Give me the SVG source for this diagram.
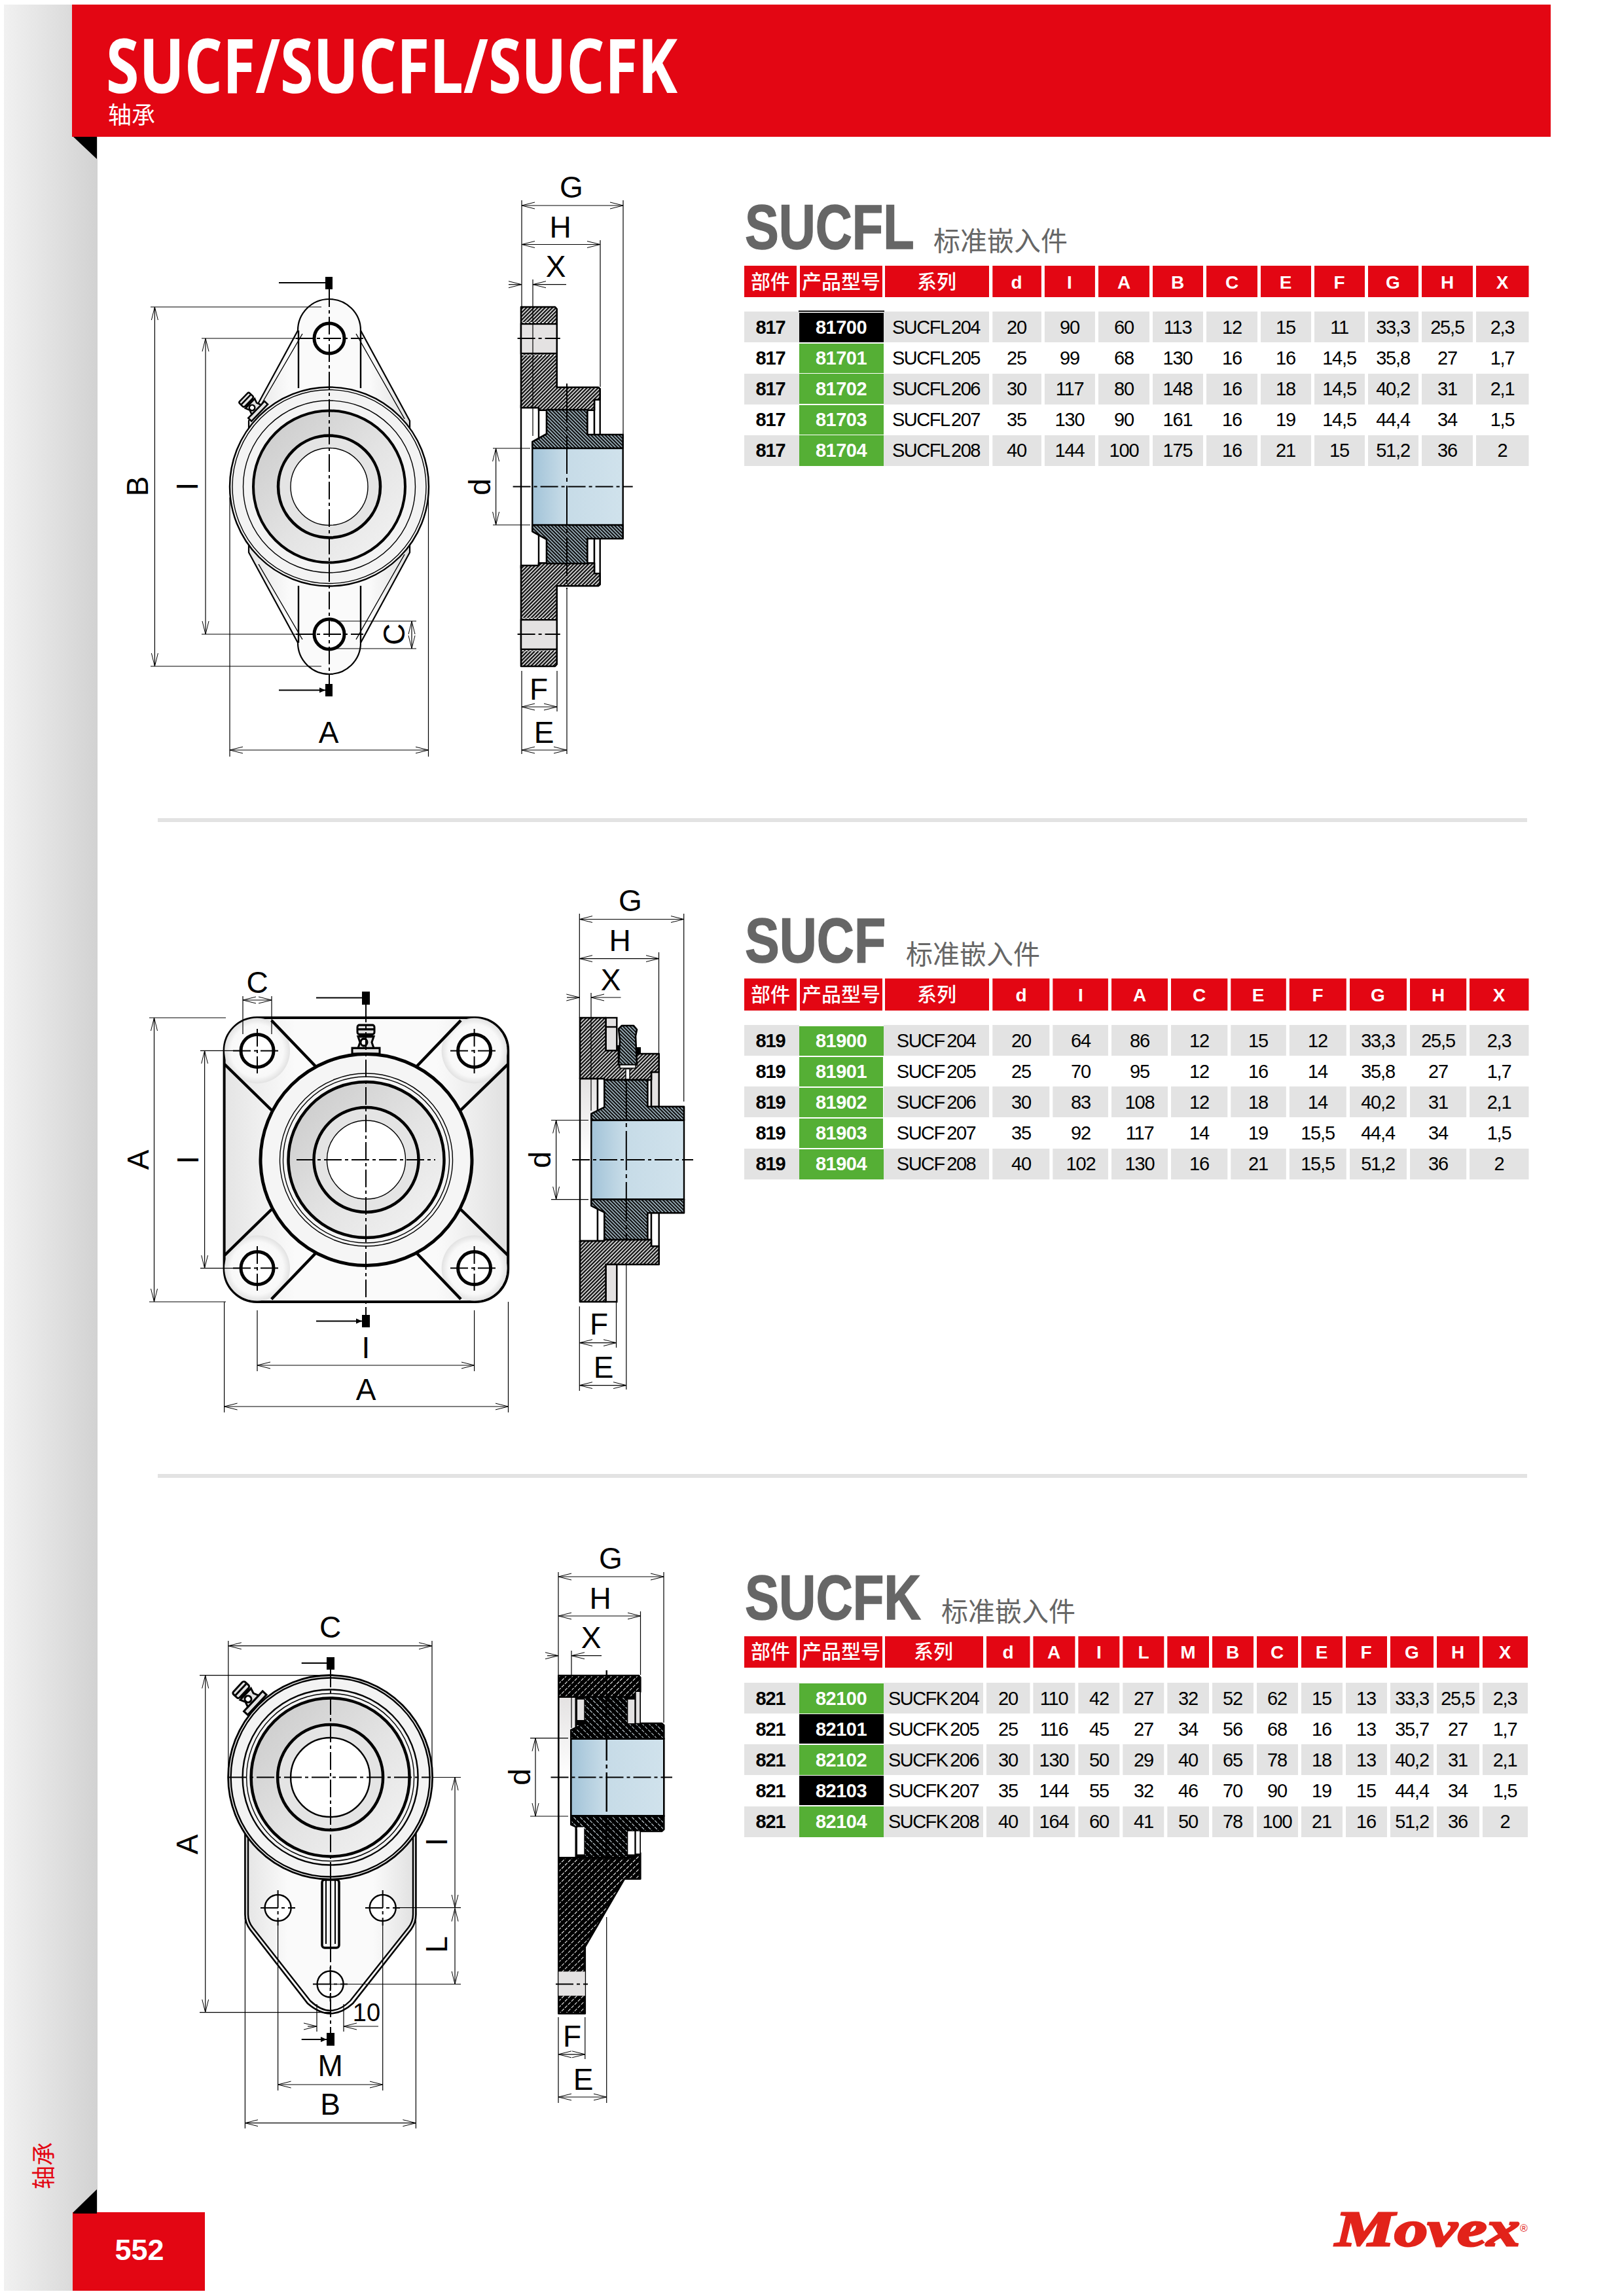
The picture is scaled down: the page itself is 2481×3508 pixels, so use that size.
<svg xmlns="http://www.w3.org/2000/svg" width="2481" height="3508" viewBox="0 0 2481 3508">
<style>
text{font-family:"Liberation Sans","Noto Sans CJK SC",sans-serif}
.cjk{font-family:"Noto Sans CJK SC",sans-serif}
.tb text{font-size:29px;text-anchor:middle;letter-spacing:-1.2px;fill:#000}
.tb .p{font-weight:700}
.tb .c{font-weight:700;fill:#fff;letter-spacing:-.5px}
.tb .s{word-spacing:-3px;letter-spacing:-1.5px}
.hd text{font-size:28px;font-weight:700;fill:#fff;text-anchor:middle}
.hd .cjk{font-size:30px;font-weight:500}
.ttl{font-weight:700;font-size:97px;fill:#666;stroke:#666;stroke-width:1.5}
.sub{font-size:41px;fill:#666}
.lb{font-size:46px;fill:#000;text-anchor:middle}
.red{fill:#E30613}.gy{fill:#E3E3E3}.gn{fill:#55AF35}.bk{fill:#000}
.d{stroke:#000;stroke-width:1.2;fill:none}
.da{stroke:#000;stroke-width:1.2;fill:none;marker-start:url(#ah);marker-end:url(#ah)}
.db{stroke:#000;stroke-width:1.2;fill:none}
.cl{stroke:#000;stroke-width:2;fill:none;stroke-dasharray:27 5 5 5}
.t1{stroke:#000;stroke-width:1.4;fill:none}
.t2{stroke:#000;stroke-width:2.4;fill:none}
.t3{stroke:#000;stroke-width:4.5;fill:none}
.sec{stroke:#000;stroke-width:2.6;stroke-linejoin:round}
.gap{fill:#E4E2E2;stroke:#000;stroke-width:2.4}
.gw{fill:#fff;stroke:#000;stroke-width:2.4}
.ah2{stroke:#000;stroke-width:2;fill:none;marker-end:url(#af)}
</style>
<defs>
<linearGradient id="band" x1="0" x2="1" y1="0" y2="0"><stop offset="0" stop-color="#F1F1F1"/><stop offset="1" stop-color="#D2D2D2"/></linearGradient>
<linearGradient id="blue" x1="0" x2="1" y1="0" y2="0"><stop offset="0" stop-color="#A2C3D8"/><stop offset=".35" stop-color="#C6DBE7"/><stop offset="1" stop-color="#D0E2EC"/></linearGradient>
<linearGradient id="bore" x1="0" x2="0" y1="0" y2="1"><stop offset="0" stop-color="#E4E2E2"/><stop offset=".5" stop-color="#fff"/><stop offset="1" stop-color="#fff"/></linearGradient>
<linearGradient id="ring" x1="0" x2="1" y1="0" y2="1"><stop offset="0" stop-color="#C8C8C8"/><stop offset=".55" stop-color="#E4E4E4"/><stop offset="1" stop-color="#F4F4F4"/></linearGradient>
<radialGradient id="face"><stop offset="0" stop-color="#FFF"/><stop offset=".8" stop-color="#F8F8F8"/><stop offset="1" stop-color="#E2E2E2"/></radialGradient>
<linearGradient id="plate" x1="0" x2="1" y1="0" y2="0"><stop offset="0" stop-color="#E4E4E4"/><stop offset=".25" stop-color="#FAFAFA"/><stop offset=".75" stop-color="#FAFAFA"/><stop offset="1" stop-color="#E0E0E0"/></linearGradient>
<pattern id="ha" width="4" height="4" patternUnits="userSpaceOnUse" patternTransform="rotate(45)"><rect width="4" height="4" fill="#fff"/><rect width="2.5" height="4" fill="#111"/></pattern>
<pattern id="hb" width="3.8" height="3.8" patternUnits="userSpaceOnUse" patternTransform="rotate(-45)"><rect width="3.8" height="3.8" fill="#BAD4E2"/><rect width="2.4" height="3.8" fill="#111"/></pattern>
<pattern id="hc" width="7" height="7" patternUnits="userSpaceOnUse" patternTransform="rotate(45)"><rect width="7" height="7" fill="#000"/><rect width="1" height="5" fill="#fff"/></pattern>
<pattern id="hd" width="7" height="7" patternUnits="userSpaceOnUse" patternTransform="rotate(-45)"><rect width="7" height="7" fill="#000"/><rect width="1" height="5" fill="#D8E6EE"/></pattern>
<marker id="ah" markerUnits="userSpaceOnUse" markerWidth="24" markerHeight="14" refX="20" refY="6" orient="auto-start-reverse"><path d="M0,1 L20,6 L0,11" fill="none" stroke="#000" stroke-width="1"/></marker>
<marker id="af" markerUnits="userSpaceOnUse" markerWidth="12" markerHeight="12" refX="9" refY="5" orient="auto"><path d="M0,1 L9,5 L0,9Z" fill="#000"/></marker>
<g id="nip"><g stroke="#000" stroke-width="3" fill="#E2E2E2"><rect x="-21" y="-7" width="42" height="8"/><path d="M-12,-7 L-9,-15 L-12,-23 L12,-23 L9,-15 L12,-7Z"/><circle cx="-3" cy="-15" r="5" fill="#fff"/><rect x="-8" y="-26" width="16" height="3"/><rect x="-13" y="-39" width="26" height="13" rx="3"/></g><path d="M-12,-33H12" stroke="#000" stroke-width="3"/></g>
<g id="cols1"><rect x="1516.3" width="74.6" height="47"/><rect x="1595.9" width="77" height="47"/><rect x="1678" width="78" height="47"/><rect x="1761" width="77" height="47"/><rect x="1843" width="78" height="47"/><rect x="1926" width="77" height="47"/><rect x="2008" width="77" height="47"/><rect x="2090" width="77" height="47"/><rect x="2172" width="78" height="47"/><rect x="2255" width="80.5" height="47"/></g>
<g id="cols2"><rect x="1516.3" width="87" height="47"/><rect x="1608.3" width="84.6" height="47"/><rect x="1698" width="86" height="47"/><rect x="1789" width="86.3" height="47"/><rect x="1880.3" width="84.5" height="47"/><rect x="1969.8" width="87" height="47"/><rect x="2062" width="87" height="47"/><rect x="2154" width="86.2" height="47"/><rect x="2245" width="90.5" height="47"/></g>
<g id="cols3"><rect x="1507" width="66.5" height="47"/><rect x="1578.4" width="64" height="47"/><rect x="1647.3" width="63" height="47"/><rect x="1715.3" width="63" height="47"/><rect x="1783.3" width="63.7" height="47"/><rect x="1852" width="63" height="47"/><rect x="1920" width="63" height="47"/><rect x="1988" width="63" height="47"/><rect x="2056" width="63" height="47"/><rect x="2124" width="66" height="47"/><rect x="2195" width="65" height="47"/><rect x="2265" width="69" height="47"/></g>
</defs>

<g id="page-frame">
<rect x="6" y="7" width="143" height="3493" fill="url(#band)"/>
<rect class="red" x="110" y="7" width="2259" height="202"/>
<path class="bk" d="M112,209H148V243Z"/>
<text x="162" y="142" font-size="115" font-weight="700" fill="#fff" style="font-family:'Open Sans',sans-serif" textLength="873" lengthAdjust="spacingAndGlyphs">SUCF/SUCFL/SUCFK</text>
<text class="cjk" x="165" y="189" font-size="36" fill="#fff">轴承</text>
<text class="cjk red" transform="rotate(-90 80 3345)" x="80" y="3345" font-size="36">轴承</text>
<rect class="red" x="111" y="3380" width="202" height="120"/>
<path class="bk" d="M112,3382V3380L148,3345V3382Z"/>
<text x="213" y="3453" font-size="45" font-weight="700" fill="#fff" text-anchor="middle" style="font-family:'Liberation Sans'">552</text>
<g id="logo" fill="#E2231A"><text x="2040" y="3431" font-size="76" font-weight="700" font-style="italic" stroke="#E2231A" stroke-width="3" style="font-family:'Liberation Serif',serif" textLength="282" lengthAdjust="spacingAndGlyphs">Movex</text><text x="2322" y="3410" font-size="16">®</text></g>
<rect class="gy" x="241" y="1250" width="2092" height="6"/>
<rect class="gy" x="241" y="2252" width="2092" height="6"/>
</g>

<!-- TABLE 1 -->
<g id="table-sucfl">
<text class="ttl" transform="translate(1138,380) scale(.8,1)">SUCFL</text>
<text class="sub cjk" x="1426" y="383">标准嵌入件</text>
<g class="red"><rect x="1137" y="406" width="80" height="48"/><rect x="1222" y="406" width="126" height="48"/><rect x="1352" y="406" width="159" height="48"/><use href="#cols1" transform="translate(0,406) scale(1,1.021)"/></g>
<g class="gy"><use href="#cols1" y="476"/><rect x="1137" y="476" width="84" height="47"/><rect x="1350" y="476" width="161" height="47"/><use href="#cols1" y="571"/><rect x="1137" y="571" width="84" height="47"/><rect x="1350" y="571" width="161" height="47"/><use href="#cols1" y="665"/><rect x="1137" y="665" width="84" height="47"/><rect x="1350" y="665" width="161" height="47"/></g>
<rect class="bk" x="1220" y="474.5" width="131" height="2"/><rect class="bk" x="1221" y="478" width="129" height="45"/>
<g class="gn"><rect x="1221" y="525" width="129" height="45"/><rect x="1221" y="571" width="129" height="46"/><rect x="1221" y="619" width="129" height="45"/><rect x="1221" y="665" width="129" height="47"/></g>
<g class="hd"><text class="cjk" x="1177" y="441">部件</text><text class="cjk" x="1285" y="441">产品型号</text><text class="cjk" x="1431" y="441">系列</text><text x="1553" y="441">d</text><text x="1634" y="441">I</text><text x="1717" y="441">A</text><text x="1799" y="441">B</text><text x="1882" y="441">C</text><text x="1964" y="441">E</text><text x="2046" y="441">F</text><text x="2128" y="441">G</text><text x="2211" y="441">H</text><text x="2295" y="441">X</text></g>
<g class="tb">
<g transform="translate(0,510)"><text class="p" x="1177">817</text><text class="c" x="1285">81700</text><text class="s" x="1430">SUCFL 204</text><text x="1553">20</text><text x="1634">90</text><text x="1717">60</text><text x="1799">113</text><text x="1882">12</text><text x="1964">15</text><text x="2046">11</text><text x="2128">33,3</text><text x="2211">25,5</text><text x="2295">2,3</text></g>
<g transform="translate(0,557)"><text class="p" x="1177">817</text><text class="c" x="1285">81701</text><text class="s" x="1430">SUCFL 205</text><text x="1553">25</text><text x="1634">99</text><text x="1717">68</text><text x="1799">130</text><text x="1882">16</text><text x="1964">16</text><text x="2046">14,5</text><text x="2128">35,8</text><text x="2211">27</text><text x="2295">1,7</text></g>
<g transform="translate(0,604)"><text class="p" x="1177">817</text><text class="c" x="1285">81702</text><text class="s" x="1430">SUCFL 206</text><text x="1553">30</text><text x="1634">117</text><text x="1717">80</text><text x="1799">148</text><text x="1882">16</text><text x="1964">18</text><text x="2046">14,5</text><text x="2128">40,2</text><text x="2211">31</text><text x="2295">2,1</text></g>
<g transform="translate(0,651)"><text class="p" x="1177">817</text><text class="c" x="1285">81703</text><text class="s" x="1430">SUCFL 207</text><text x="1553">35</text><text x="1634">130</text><text x="1717">90</text><text x="1799">161</text><text x="1882">16</text><text x="1964">19</text><text x="2046">14,5</text><text x="2128">44,4</text><text x="2211">34</text><text x="2295">1,5</text></g>
<g transform="translate(0,698)"><text class="p" x="1177">817</text><text class="c" x="1285">81704</text><text class="s" x="1430">SUCFL 208</text><text x="1553">40</text><text x="1634">144</text><text x="1717">100</text><text x="1799">175</text><text x="1882">16</text><text x="1964">21</text><text x="2046">15</text><text x="2128">51,2</text><text x="2211">36</text><text x="2295">2</text></g>
</g>
</g>

<!-- TABLE 2 -->
<g id="table-sucf">
<text class="ttl" transform="translate(1138,1470) scale(.815,1)">SUCF</text>
<text class="sub cjk" x="1384" y="1473">标准嵌入件</text>
<g class="red"><rect x="1137" y="1495" width="80" height="49"/><rect x="1222" y="1495" width="126" height="49"/><rect x="1352" y="1495" width="159" height="49"/><use href="#cols2" transform="translate(0,1495) scale(1,1.043)"/></g>
<g class="gy"><use href="#cols2" y="1566"/><rect x="1137" y="1566" width="84" height="47"/><rect x="1350" y="1566" width="161" height="47"/><use href="#cols2" y="1660"/><rect x="1137" y="1660" width="84" height="47"/><rect x="1350" y="1660" width="161" height="47"/><use href="#cols2" y="1755"/><rect x="1137" y="1755" width="84" height="47"/><rect x="1350" y="1755" width="161" height="47"/></g>
<g class="gn"><rect x="1221" y="1568" width="129" height="45"/><rect x="1221" y="1615" width="128" height="45"/><rect x="1221" y="1662" width="128" height="45"/><rect x="1221" y="1709" width="128" height="45"/><rect x="1221" y="1756" width="129" height="46"/></g>
<g class="hd"><text class="cjk" x="1177" y="1530">部件</text><text class="cjk" x="1285" y="1530">产品型号</text><text class="cjk" x="1431" y="1530">系列</text><text x="1560" y="1530">d</text><text x="1651" y="1530">I</text><text x="1741" y="1530">A</text><text x="1832" y="1530">C</text><text x="1922" y="1530">E</text><text x="2013" y="1530">F</text><text x="2105" y="1530">G</text><text x="2197" y="1530">H</text><text x="2290" y="1530">X</text></g>
<g class="tb">
<g transform="translate(0,1600)"><text class="p" x="1177">819</text><text class="c" x="1285">81900</text><text class="s" x="1430">SUCF 204</text><text x="1560">20</text><text x="1651">64</text><text x="1741">86</text><text x="1832">12</text><text x="1922">15</text><text x="2013">12</text><text x="2105">33,3</text><text x="2197">25,5</text><text x="2290">2,3</text></g>
<g transform="translate(0,1647)"><text class="p" x="1177">819</text><text class="c" x="1285">81901</text><text class="s" x="1430">SUCF 205</text><text x="1560">25</text><text x="1651">70</text><text x="1741">95</text><text x="1832">12</text><text x="1922">16</text><text x="2013">14</text><text x="2105">35,8</text><text x="2197">27</text><text x="2290">1,7</text></g>
<g transform="translate(0,1694)"><text class="p" x="1177">819</text><text class="c" x="1285">81902</text><text class="s" x="1430">SUCF 206</text><text x="1560">30</text><text x="1651">83</text><text x="1741">108</text><text x="1832">12</text><text x="1922">18</text><text x="2013">14</text><text x="2105">40,2</text><text x="2197">31</text><text x="2290">2,1</text></g>
<g transform="translate(0,1741)"><text class="p" x="1177">819</text><text class="c" x="1285">81903</text><text class="s" x="1430">SUCF 207</text><text x="1560">35</text><text x="1651">92</text><text x="1741">117</text><text x="1832">14</text><text x="1922">19</text><text x="2013">15,5</text><text x="2105">44,4</text><text x="2197">34</text><text x="2290">1,5</text></g>
<g transform="translate(0,1788)"><text class="p" x="1177">819</text><text class="c" x="1285">81904</text><text class="s" x="1430">SUCF 208</text><text x="1560">40</text><text x="1651">102</text><text x="1741">130</text><text x="1832">16</text><text x="1922">21</text><text x="2013">15,5</text><text x="2105">51,2</text><text x="2197">36</text><text x="2290">2</text></g>
</g>
</g>

<!-- TABLE 3 -->
<g id="table-sucfk">
<text class="ttl" transform="translate(1138,2474) scale(.805,1)">SUCFK</text>
<text class="sub cjk" x="1438" y="2477">标准嵌入件</text>
<g class="red"><rect x="1137" y="2500" width="80" height="48"/><rect x="1222" y="2500" width="126" height="48"/><rect x="1352" y="2500" width="150" height="48"/><use href="#cols3" transform="translate(0,2500) scale(1,1.021)"/></g>
<g class="gy"><use href="#cols3" y="2571"/><rect x="1137" y="2571" width="84" height="47"/><rect x="1350" y="2571" width="152" height="47"/><use href="#cols3" y="2665"/><rect x="1137" y="2665" width="84" height="47"/><rect x="1350" y="2665" width="152" height="47"/><use href="#cols3" y="2760"/><rect x="1137" y="2760" width="84" height="47"/><rect x="1350" y="2760" width="152" height="47"/></g>
<rect class="gn" x="1221" y="2572" width="129" height="46"/><rect class="bk" x="1221" y="2619" width="129" height="45"/><rect class="gn" x="1221" y="2666" width="129" height="46"/><rect class="bk" x="1221" y="2713" width="129" height="45"/><rect class="gn" x="1221" y="2760" width="129" height="47"/>
<g class="hd"><text class="cjk" x="1177" y="2534">部件</text><text class="cjk" x="1285" y="2534">产品型号</text><text class="cjk" x="1426" y="2534">系列</text><text x="1540" y="2534">d</text><text x="1610" y="2534">A</text><text x="1679" y="2534">I</text><text x="1747" y="2534">L</text><text x="1815" y="2534">M</text><text x="1883" y="2534">B</text><text x="1951" y="2534">C</text><text x="2019" y="2534">E</text><text x="2087" y="2534">F</text><text x="2157" y="2534">G</text><text x="2227" y="2534">H</text><text x="2299" y="2534">X</text></g>
<g class="tb">
<g transform="translate(0,2605)"><text class="p" x="1177">821</text><text class="c" x="1285">82100</text><text class="s" x="1426">SUCFK 204</text><text x="1540">20</text><text x="1610">110</text><text x="1679">42</text><text x="1747">27</text><text x="1815">32</text><text x="1883">52</text><text x="1951">62</text><text x="2019">15</text><text x="2087">13</text><text x="2157">33,3</text><text x="2227">25,5</text><text x="2299">2,3</text></g>
<g transform="translate(0,2652)"><text class="p" x="1177">821</text><text class="c" x="1285">82101</text><text class="s" x="1426">SUCFK 205</text><text x="1540">25</text><text x="1610">116</text><text x="1679">45</text><text x="1747">27</text><text x="1815">34</text><text x="1883">56</text><text x="1951">68</text><text x="2019">16</text><text x="2087">13</text><text x="2157">35,7</text><text x="2227">27</text><text x="2299">1,7</text></g>
<g transform="translate(0,2699)"><text class="p" x="1177">821</text><text class="c" x="1285">82102</text><text class="s" x="1426">SUCFK 206</text><text x="1540">30</text><text x="1610">130</text><text x="1679">50</text><text x="1747">29</text><text x="1815">40</text><text x="1883">65</text><text x="1951">78</text><text x="2019">18</text><text x="2087">13</text><text x="2157">40,2</text><text x="2227">31</text><text x="2299">2,1</text></g>
<g transform="translate(0,2746)"><text class="p" x="1177">821</text><text class="c" x="1285">82103</text><text class="s" x="1426">SUCFK 207</text><text x="1540">35</text><text x="1610">144</text><text x="1679">55</text><text x="1747">32</text><text x="1815">46</text><text x="1883">70</text><text x="1951">90</text><text x="2019">19</text><text x="2087">15</text><text x="2157">44,4</text><text x="2227">34</text><text x="2299">1,5</text></g>
<g transform="translate(0,2793)"><text class="p" x="1177">821</text><text class="c" x="1285">82104</text><text class="s" x="1426">SUCFK 208</text><text x="1540">40</text><text x="1610">164</text><text x="1679">60</text><text x="1747">41</text><text x="1815">50</text><text x="1883">78</text><text x="1951">100</text><text x="2019">21</text><text x="2087">16</text><text x="2157">51,2</text><text x="2227">36</text><text x="2299">2</text></g>
</g>
</g>

<!-- SUCFL FRONT -->
<g id="sucfl-front">
<path d="M455,505 A48,48 0 0 1 551,505 L626,643 L626,844 L551,982 A48,48 0 0 1 455,982 L380,844 L380,643Z" fill="url(#plate)" stroke="#000" stroke-width="2.2"/>
<path class="t1" d="M462,510 L395,625 M544,510 L618,640 M462,977 L395,862 M544,977 L618,847"/>
<path class="t2" d="M456,505V593M551,505V593M456,895V982M551,895V982"/>
<use href="#nip" transform="translate(396,630) rotate(-46) scale(.85)"/>
<circle cx="503" cy="743.5" r="152" fill="#F3F3F3" stroke="#000" stroke-width="2.4"/>
<circle class="t1" cx="503" cy="743.5" r="148"/>
<circle class="t1" cx="503" cy="743.5" r="131.5"/>
<circle cx="503" cy="743.5" r="116" fill="url(#ring)" stroke="#000" stroke-width="4"/>
<circle cx="503" cy="743.5" r="78" fill="#E4E4E4" stroke="#000" stroke-width="4.5"/>
<circle cx="503" cy="743.5" r="59" fill="#fff" stroke="#000" stroke-width="1.4"/>
<circle cx="503" cy="517" r="23" fill="#fff" stroke="#000" stroke-width="5"/>
<circle cx="503" cy="969" r="23" fill="#fff" stroke="#000" stroke-width="5"/>
<path class="cl" d="M503,442V1045M452,517H555M452,969H555"/>
<rect class="bk" x="497" y="423" width="11" height="19"/><rect class="bk" x="497" y="1045" width="11" height="19"/>
<path class="ah2" d="M426,432H497M426,1054.5H497"/>
</g>
<g id="sucfl-front-dims">
<path class="d" d="M230,469H491M230,1018H491M308,517H455M308,969H455M505,949H636M505,991H636M351,760V1156M654.5,760V1156"/>
<path class="da" d="M236.4,469V1018"/><path class="da" d="M314,517V969"/><path class="da" d="M629,949V991"/><path class="da" d="M351,1146H654.5"/>
<text class="lb" x="226" y="743" transform="rotate(-90 226 743)">B</text><text class="lb" x="302" y="743" transform="rotate(-90 302 743)">I</text><text class="lb" x="618" y="969" transform="rotate(-90 618 969)">C</text><text class="lb" x="502" y="1135">A</text>
</g>

<!-- SUCFL SECTION -->
<g id="sucfl-section">
<rect class="gw" x="796" y="620" width="30" height="247"/>
<rect class="gw" x="823" y="620" width="14" height="60"/><rect class="gw" x="823" y="807" width="14" height="60"/>
<rect class="gw" x="897" y="610" width="11" height="56"/><rect class="gw" x="908" y="608" width="8.7" height="58"/>
<rect class="gw" x="897" y="821" width="11" height="56"/><rect class="gw" x="908" y="821" width="8.7" height="58"/>
<path class="sec" fill="url(#ha)" d="M796,469H848L850.7,472V591.7H914L916.7,594V610.7H908V626.7H823V623H796Z"/>
<path class="sec" fill="url(#ha)" d="M796,1018H848L850.7,1015V895.3H914L916.7,893V876.3H908V860.3H823V864H796Z"/>
<path class="sec" fill="url(#hb)" d="M835,626H897.3V664H951.7V685H813.3V675L835,663Z"/>
<path class="sec" fill="url(#hb)" d="M835,861H897.3V823H951.7V802H813.3V812L835,824Z"/>
<rect x="813.3" y="685" width="138.4" height="117" fill="url(#blue)" stroke="#000" stroke-width="2.4"/>
<rect class="gap" x="796" y="495" width="54.7" height="45"/><rect class="gap" x="796" y="947" width="54.7" height="45"/>
<path d="M798,492.5H849M798,542.5H849M798,944.5H849M798,994.5H849" stroke="#fff" stroke-width="1.2" stroke-dasharray="3 3"/>
<path d="M866,586V900" stroke="#000" stroke-width="2" stroke-dasharray="60 6 6 6"/>
<path class="cl" d="M783.6,743.5H966.7M790.6,517H855.8M790.6,969H855.8"/>
</g>
<g id="sucfl-section-dims">
<path class="d" d="M797,306V469M952,306V664M917,367V591M814,427V666M797,1025V1152M851,1025V1087M866,900V1152M753,685H810M753,802H810"/>
<path class="da" d="M797,314H952"/><path class="da" d="M797,373.5H917"/>
<path class="db" marker-end="url(#ah)" d="M777,434.7H797"/><path class="db" marker-end="url(#ah)" d="M865,434.7H814"/>
<path class="da" d="M797,1080H851"/><path class="da" d="M797,1146H866"/><path class="da" d="M757.6,685V802"/>
<text class="lb" x="873" y="302">G</text><text class="lb" x="856" y="363">H</text><text class="lb" x="849" y="423">X</text><text class="lb" x="823" y="1069">F</text><text class="lb" x="831" y="1135">E</text><text class="lb" x="749" y="744" transform="rotate(-90 749 744)">d</text>
</g>

<!-- SUCF FRONT -->
<g id="sucf-front">
<rect x="342.6" y="1555" width="433.6" height="434" rx="50" fill="url(#plate)" stroke="#000" stroke-width="4"/>
<circle cx="393" cy="1605.4" r="50" fill="url(#face)"/><circle cx="724.6" cy="1605.4" r="50" fill="url(#face)"/><circle cx="393" cy="1937.6" r="50" fill="url(#face)"/><circle cx="724.6" cy="1937.6" r="50" fill="url(#face)"/>
<path class="t3" d="M414.7,1559L484.8,1632M343,1626L414.7,1696M704,1559L634,1632M776,1626L704,1696M414.7,1985L484.8,1912M343,1918L414.7,1848M704,1985L634,1912M776,1918L704,1848"/>
<use href="#nip" transform="translate(559,1609) scale(1,1.1)"/>
<circle cx="559.5" cy="1772" r="161.5" fill="#F5F5F5" stroke="#000" stroke-width="5"/>
<circle class="t1" cx="559.5" cy="1772" r="132"/><circle class="t1" cx="559.5" cy="1772" r="127"/>
<circle cx="559.5" cy="1772" r="119" fill="url(#ring)" stroke="#000" stroke-width="4.5"/>
<circle cx="559.5" cy="1772" r="80" fill="#E4E4E4" stroke="#000" stroke-width="4.5"/>
<circle cx="559.5" cy="1772" r="60" fill="#fff" stroke="#000" stroke-width="1.4"/>
<g fill="#fff" stroke="#000" stroke-width="5"><circle cx="393" cy="1605.4" r="25"/><circle cx="724.6" cy="1605.4" r="25"/><circle cx="393" cy="1937.6" r="25"/><circle cx="724.6" cy="1937.6" r="25"/></g>
<path class="cl" d="M559,1535V2009M453,1772H665M393,1572V1640M356,1605.4H430M724.6,1572V1640M688,1605.4H762M393,1904V1972M356,1937.6H430M724.6,1904V1972M688,1937.6H762"/>
<rect class="bk" x="553" y="1515" width="12" height="20"/><rect class="bk" x="553" y="2009" width="12" height="19"/>
<path class="ah2" d="M483,1524.6H553M483,2018.5H553"/>
</g>
<g id="sucf-front-dims">
<path class="d" d="M228,1555H345M228,1989H345M306,1605.4H365M306,1937.6H365M371,1522V1580M415,1522V1580M393,2002V2095M724.6,2002V2095M342.6,1989V2158M776.5,1989V2158"/>
<path class="da" d="M235.5,1555V1989"/><path class="da" d="M312.6,1605.4V1937.6"/><path class="da" d="M371,1528H415"/><path class="da" d="M393,2086H724.6"/><path class="da" d="M342.6,2149H776.5"/>
<text class="lb" x="227" y="1772" transform="rotate(-90 227 1772)">A</text><text class="lb" x="303" y="1772" transform="rotate(-90 303 1772)">I</text><text class="lb" x="393" y="1517">C</text><text class="lb" x="559" y="2075">I</text><text class="lb" x="559" y="2139">A</text>
</g>

<!-- SUCF SECTION -->
<g id="sucf-section">
<rect x="886" y="1648" width="27" height="248" fill="url(#bore)" stroke="#000" stroke-width="2.4"/>
<rect class="gw" x="913" y="1648" width="12" height="50"/><rect class="gw" x="913" y="1846" width="12" height="50"/>
<rect class="gw" x="989" y="1650" width="6" height="42"/><rect class="gap" x="995" y="1638" width="11.7" height="53"/>
<rect class="gw" x="989" y="1852" width="6" height="42"/><rect class="gw" x="995" y="1853" width="11.7" height="53"/>
<path class="sec" fill="url(#ha)" d="M886,1555H925.7V1605H945V1627H972V1610H1006.7V1638H995V1650H923V1648H886Z"/>
<path class="sec" fill="url(#ha)" d="M886,1989H925.7V1932H1006.7V1904H995V1894H923V1896H886Z"/>
<path fill="#000" d="M938,1597H947V1605H938ZM972,1600H979V1610H972Z"/>
<rect class="gap" x="925.7" y="1555" width="16.6" height="50"/><path class="t2" d="M925.7,1569H942.3"/>
<rect class="gap" x="925.7" y="1932" width="16.6" height="57"/>
<path class="sec" fill="url(#hb)" d="M945,1572L950,1567H968L973,1573L971,1583L973,1627H945L947,1590Z"/>
<rect x="947" y="1627" width="24" height="5" fill="#fff" stroke="#000" stroke-width="1.4"/>
<rect x="956" y="1633" width="6" height="16" fill="#fff" stroke="#000" stroke-width="1.4"/>
<path class="sec" fill="url(#hb)" d="M923.3,1650H989.3V1690.7H1045V1711.7H903.3V1701.7L923.3,1691.7Z"/>
<path class="sec" fill="url(#hb)" d="M923.3,1894H989.3V1853.3H1045V1832.3H903.3V1842.3L923.3,1852.3Z"/>
<rect x="903.3" y="1711.7" width="141.7" height="120.6" fill="url(#blue)" stroke="#000" stroke-width="2.4"/>
<path d="M956.8,1650V1895" stroke="#000" stroke-width="2" stroke-dasharray="60 6 6 6"/>
<path class="cl" d="M874,1772H1059"/>
</g>
<g id="sucf-section-dims">
<path class="d" d="M885.3,1396V1555M1044.7,1396V1683M1006.5,1455V1610M903,1517V1697M885.3,1996V2125M941.5,1989V2059M956.8,1932V2123M842,1711.5H899M842,1832.7H899"/>
<path class="da" d="M885.3,1404.5H1044.7"/><path class="da" d="M885.3,1464.6H1006.5"/>
<path class="db" marker-end="url(#ah)" d="M866,1524H885.3"/><path class="db" marker-end="url(#ah)" d="M948.5,1524H903"/>
<path class="da" d="M885.3,2051.6H941.5"/><path class="da" d="M885.3,2116.6H956.8"/><path class="da" d="M849.6,1711.5V1832.7"/>
<text class="lb" x="963" y="1392">G</text><text class="lb" x="947" y="1453">H</text><text class="lb" x="933" y="1513">X</text><text class="lb" x="915" y="2039">F</text><text class="lb" x="922" y="2105">E</text><text class="lb" x="841" y="1772" transform="rotate(-90 841 1772)">d</text>
</g>

<!-- SUCFK FRONT -->
<g id="sucfk-front">
<path d="M374.4,2790V2925Q374.4,2938 382,2948L470,3061Q488,3076.4 504.6,3076.4Q522,3076.4 539,3061L628,2948Q635.4,2938 635.4,2925V2790Z" fill="url(#plate)" stroke="#000" stroke-width="2.6"/>
<path class="t2" d="M379,2800V2925Q379,2936 386,2945L474,3057Q490,3072 504.6,3072Q520,3072 535,3057L624,2945Q631,2936 631,2925V2800"/>
<use href="#nip" transform="translate(392,2604) rotate(-47)"/>
<circle cx="504.6" cy="2715.5" r="156" fill="#F3F3F3" stroke="#000" stroke-width="2.8"/>
<circle class="t2" cx="504.6" cy="2715.5" r="152"/>
<circle class="t2" cx="504.6" cy="2715.5" r="134"/><circle class="t1" cx="504.6" cy="2715.5" r="128"/>
<circle cx="504.6" cy="2715.5" r="121" fill="url(#ring)" stroke="#000" stroke-width="4.5"/>
<circle cx="504.6" cy="2715.5" r="80.5" fill="#E4E4E4" stroke="#000" stroke-width="4.5"/>
<circle cx="504.6" cy="2715.5" r="60.5" fill="#fff" stroke="#000" stroke-width="2.4"/>
<rect x="492" y="2872" width="26" height="104" rx="4" fill="#F4F4F4" stroke="#000" stroke-width="3.5"/>
<path d="M498,2872V2970M505,2872V2976M512,2872V2970" stroke="#000" stroke-width="2" fill="none"/>
<g fill="#fff" stroke="#000" stroke-width="2.4"><circle cx="424.6" cy="2915" r="20"/><circle cx="584.7" cy="2915" r="20"/><circle cx="504.6" cy="3031.5" r="20"/></g>
<path class="cl" d="M505,2551V3106M350,2715.5H658M398,2915H451M424.6,2888V2942M558,2915H611M584.7,2888V2942M478,3031.5H531M504.6,3005V3058"/>
<rect class="bk" x="499" y="2532" width="12" height="19"/><rect class="bk" x="499" y="3106" width="12" height="19.6"/>
<path class="ah2" d="M460.7,2541H499M460.7,3116H499"/>
</g>
<g id="sucfk-front-dims">
<path class="d" d="M348.8,2507V2715M660,2507V2715M305,2559.6H504M305,3074.6H504M660,2715.5H704M605,2914.6H704M504,3031.5H704M424.6,2942V3194M584.7,2942V3194M374.4,2930V3252M635.4,2930V3252M484,3062V3104M525,3062V3104"/>
<path class="da" d="M348.8,2514.7H660"/><path class="da" d="M313.7,2559.6V3074.6"/><path class="da" d="M695,2715.5V2914.6"/><path class="da" d="M695,2915.7V3031.5"/>
<path class="db" marker-end="url(#ah)" d="M470,3096H484"/><path class="db" marker-end="url(#ah)" d="M578,3096H525"/>
<path class="da" d="M424.6,3185H584.7"/><path class="da" d="M374.4,3243.7H635.4"/>
<text class="lb" x="504.6" y="2502">C</text><text class="lb" x="302" y="2818" transform="rotate(-90 302 2818)">A</text><text class="lb" x="683" y="2814" transform="rotate(-90 683 2814)">I</text><text class="lb" x="683" y="2971" transform="rotate(-90 683 2971)">L</text><text class="lb" x="560" y="3088" style="font-size:38px">10</text><text class="lb" x="504.6" y="3172">M</text><text class="lb" x="504.6" y="3231">B</text>
</g>

<!-- SUCFK SECTION -->
<g id="sucfk-section">
<rect x="853.3" y="2592.7" width="26.7" height="245.7" fill="url(#bore)" stroke="#000" stroke-width="2.6"/>
<path d="M880,2592V2640M880,2790V2838" stroke="#000" stroke-width="2.6"/>
<rect x="880" y="2590" width="14" height="46" fill="#000"/><rect x="880" y="2795" width="14" height="45" fill="#000"/>
<rect x="958" y="2585" width="21" height="50" fill="#000"/><rect x="958" y="2795" width="21" height="55" fill="#000"/>
<path class="sec" fill="url(#hc)" d="M853.3,2560H976L978.3,2563V2585H971.7V2592.7H853.3Z"/>
<path class="sec" fill="url(#hc)" d="M853.3,2838.4H969.6L978.3,2831V2870.8H953.9L893.8,2974.5V3076.4H853.3Z"/>
<path class="sec" fill="url(#hd)" d="M892.3,2592.7H959.3V2633H1011L1014.3,2636V2656.7H872.3V2643.3L892.3,2634Z"/>
<path class="sec" fill="url(#hd)" d="M892.3,2838.3H959.3V2798H1011L1014.3,2795V2774.3H872.3V2787.7L892.3,2797Z"/>
<rect x="882" y="2596.7" width="10.3" height="31.3" fill="#E4E2E2"/><rect x="959.3" y="2596.7" width="10" height="36.3" fill="#E4E2E2"/><rect x="971.7" y="2585" width="5.6" height="47.7" fill="#E4E2E2"/>
<rect x="882" y="2791.7" width="10.3" height="41.6" fill="#fff"/><rect x="959.3" y="2798" width="10" height="35.3" fill="#fff"/><rect x="971.7" y="2798" width="5.6" height="34" fill="#fff"/>
<rect x="872.3" y="2656.7" width="142" height="117.6" fill="url(#blue)" stroke="#000" stroke-width="2.6"/>
<rect x="853.3" y="3012.3" width="40.5" height="37" fill="#E4E2E2"/>
<path d="M926.7,2552V2860" stroke="#000" stroke-width="2.4" stroke-dasharray="60 6 6 6"/>
<path class="cl" d="M841.5,2715.5H1027M849,3031.5H898"/>
</g>
<g id="sucfk-section-dims">
<path class="d" d="M853,2402V2560M1014,2402V2632M978.5,2462V2559M873,2522V2640M853,3082V3213M893.8,3082V3146M926.7,2929V3213M810,2655.6H868M810,2775H868"/>
<path class="da" d="M853,2409H1014"/><path class="da" d="M853,2469H978.5"/>
<path class="db" marker-end="url(#ah)" d="M836,2529.7H853"/><path class="db" marker-end="url(#ah)" d="M919,2529.7H873"/>
<path class="da" d="M853,3138.8H893.8"/><path class="da" d="M853,3204H926.7"/><path class="da" d="M818,2655.6V2775"/>
<text class="lb" x="933" y="2397">G</text><text class="lb" x="917" y="2458">H</text><text class="lb" x="903" y="2518">X</text><text class="lb" x="874" y="3127">F</text><text class="lb" x="891" y="3193">E</text><text class="lb" x="810" y="2715" transform="rotate(-90 810 2715)">d</text>
</g>
</svg>
